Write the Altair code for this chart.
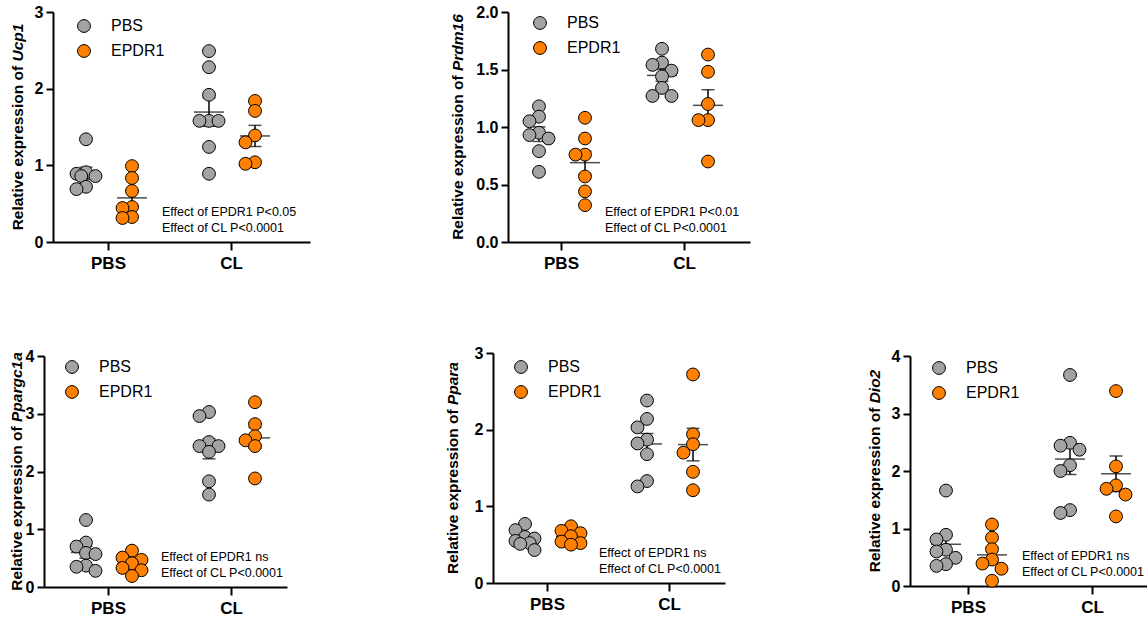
import altair as alt
import pandas as pd

FONT = "Liberation Sans"
GRAY = "#A3A3A6"
ORANGE = "#FF8000"

groups = ["PBS", "CL"]
treatments = ["PBS", "EPDR1"]
genes = ["Ucp1", "Prdm16", "Ppargc1a", "Ppara", "Dio2"]

# values: [gene][group][treatment]
ucp1_pbs_pbs = [1.34, 0.91, 0.89, 0.86, 0.86, 0.72, 0.69]
ucp1_pbs_epdr1 = [0.99, 0.835, 0.665, 0.456, 0.443, 0.326, 0.313]
ucp1_cl_pbs = [2.49, 2.28, 1.92, 1.58, 1.58, 1.58, 1.24, 0.89]
ucp1_cl_epdr1 = [1.84, 1.71, 1.39, 1.30, 1.04, 1.02]

prdm16_pbs_pbs = [1.18, 1.09, 1.05, 0.95, 0.93, 0.90, 0.79, 0.61]
prdm16_pbs_epdr1 = [1.08, 0.90, 0.76, 0.76, 0.57, 0.44, 0.32]
prdm16_cl_pbs = [1.68, 1.56, 1.54, 1.49, 1.44, 1.34, 1.27, 1.27]
prdm16_cl_epdr1 = [1.63, 1.48, 1.20, 1.06, 1.06, 0.70]

ppargc1a_pbs_pbs = [1.16, 0.77, 0.70, 0.59, 0.57, 0.37, 0.35, 0.28]
ppargc1a_pbs_epdr1 = [0.63, 0.51, 0.47, 0.41, 0.33, 0.29, 0.19]
ppargc1a_cl_pbs = [3.03, 2.96, 2.51, 2.44, 2.44, 2.34, 1.83, 1.60]
ppargc1a_cl_epdr1 = [3.20, 2.82, 2.61, 2.54, 2.44, 1.88]

ppara_pbs_pbs = [0.77, 0.69, 0.60, 0.58, 0.55, 0.52, 0.51, 0.43]
ppara_pbs_epdr1 = [0.74, 0.68, 0.65, 0.61, 0.54, 0.52, 0.50]
ppara_cl_pbs = [2.38, 2.14, 2.03, 1.87, 1.82, 1.68, 1.33, 1.26]
ppara_cl_epdr1 = [2.72, 1.94, 1.81, 1.70, 1.45, 1.21]

dio2_pbs_pbs = [1.66, 0.89, 0.81, 0.63, 0.60, 0.49, 0.38, 0.35]
dio2_pbs_epdr1 = [1.07, 0.84, 0.64, 0.46, 0.39, 0.30, 0.09]
dio2_cl_pbs = [3.67, 2.49, 2.44, 2.37, 2.10, 2.00, 1.32, 1.27]
dio2_cl_epdr1 = [3.39, 2.08, 1.75, 1.69, 1.59, 1.21]

gene_values = [
    [[ucp1_pbs_pbs, ucp1_pbs_epdr1], [ucp1_cl_pbs, ucp1_cl_epdr1]],
    [[prdm16_pbs_pbs, prdm16_pbs_epdr1], [prdm16_cl_pbs, prdm16_cl_epdr1]],
    [[ppargc1a_pbs_pbs, ppargc1a_pbs_epdr1], [ppargc1a_cl_pbs, ppargc1a_cl_epdr1]],
    [[ppara_pbs_pbs, ppara_pbs_epdr1], [ppara_cl_pbs, ppara_cl_epdr1]],
    [[dio2_pbs_pbs, dio2_pbs_epdr1], [dio2_cl_pbs, dio2_cl_epdr1]],
]

effect_epdr1 = ["Effect of EPDR1 P<0.05", "Effect of EPDR1 P<0.01",
                "Effect of EPDR1 ns", "Effect of EPDR1 ns", "Effect of EPDR1 ns"]
effect_cl = ["Effect of CL P<0.0001"] * 5
y_max = [3, 2, 4, 3, 4]
y_ticks = [[0, 1, 2, 3], [0, 0.5, 1.0, 1.5, 2.0], [0, 1, 2, 3, 4], [0, 1, 2, 3], [0, 1, 2, 3, 4]]
y_format = ["d", ".1f", "d", "d", "d"]

# ---- layout (pixels on the 1147x618 canvas) ----
layout = [
    dict(L=53, E=310, T=12, B=242, p=55, c=178, tx=18, lx=83, ly=26, ax=162, ay=212),
    dict(L=508, E=750, T=12, B=242, p=53, c=176, tx=458, lx=539, ly=23, ax=605, ay=212),
    dict(L=44, E=287, T=356, B=587, p=64, c=187, tx=17, lx=71, ly=367, ax=161, ay=557),
    dict(L=493, E=725, T=353, B=583, p=54, c=176, tx=453, lx=520, ly=367, ax=599, ay=553),
    dict(L=910, E=1147, T=356, B=586, p=58, c=182, tx=875, lx=938, ly=368, ax=1022, ay=556),
]
W, H = 1147, 618
SHIFT = {"PBS": -22, "EPDR1": 24}
PT_SIZE = 165
TITLE_FS = 15.5

BOLD_W = {' ': 278, 'R': 722, 'e': 556, 'l': 278, 'a': 556, 't': 333, 'i': 278, 'v': 556,
          'x': 556, 'p': 611, 'r': 389, 's': 556, 'o': 611, 'n': 611, 'f': 333, 'U': 722,
          'c': 556, '1': 556, 'P': 667, 'd': 611, 'm': 889, '6': 556, 'g': 611, 'D': 722, '2': 556}


def text_w(s, fs):
    return sum(BOLD_W.get(ch, 600) for ch in s) / 1000 * fs


def swarm(vals, px_per_unit, step=4.75, mind=9.4):
    """Simple beeswarm: spread points that would overlap, within +-2 steps."""
    order = sorted(range(len(vals)), key=lambda i: -vals[i])
    placed, offs = [], [0.0] * len(vals)
    for i in order:
        y = vals[i] * px_per_unit
        best, best_d = 0.0, -1.0
        for kk in [0, -2, 2, -1, 1]:
            x = kk * step
            d = min([((x - a) ** 2 + (y - b) ** 2) ** 0.5 for a, b in placed] or [99])
            if d >= mind:
                best = x
                break
            if d > best_d:
                best, best_d = x, d
        placed.append((best, y))
        offs[i] = best
    return offs


def axis_common():
    return dict(domainColor="black", domainWidth=2, tickColor="black", tickWidth=2,
                labelFont=FONT, labelFontWeight="bold", labelColor="black",
                grid=False, title=None, labelOverlap=False, labelFlush=False, labelBound=False)


def make_panel(idx):
    lay = layout[idx]
    k = lay["c"] - lay["p"]
    d0 = 1 - lay["p"] / k
    d1 = d0 + (lay["E"] - lay["L"]) / k
    ppu = (lay["B"] - lay["T"]) / y_max[idx]

    rows = []
    for gi, g in enumerate(groups):
        for ti, t in enumerate(treatments):
            vals = gene_values[idx][gi][ti]
            offs = swarm(vals, ppu)
            xc = gi + 1 + SHIFT[t] / k
            for v, o in zip(vals, offs):
                rows.append(dict(group=g, treatment=t, value=v, xc=xc, xj=xc + o / k))
    df = pd.DataFrame(rows)

    xs = alt.Scale(domain=[d0, d1], range=[lay["L"], lay["E"]], nice=False, zero=False)
    ys = alt.Scale(domain=[0, y_max[idx]], range=[lay["B"], lay["T"]], nice=False, zero=False)
    xaxis = alt.Axis(orient="bottom", offset=lay["B"] - H, values=[1, 2],
                     labelExpr="datum.value == 1 ? 'PBS' : 'CL'", tickSize=8,
                     labelFontSize=17, labelPadding=5, **axis_common())
    yaxis = alt.Axis(orient="left", offset=-lay["L"], values=y_ticks[idx], format=y_format[idx],
                     tickSize=7, labelFontSize=16, labelPadding=3, **axis_common())

    base = alt.Chart(df)
    stats = base.transform_aggregate(
        m="mean(value)", se="stderr(value)", groupby=["xc"]
    ).transform_calculate(lo="datum.m - datum.se", hi="datum.m + datum.se")

    xe = alt.X("xc:Q", scale=xs, axis=xaxis)
    sem_rule = stats.mark_rule(color="black", strokeWidth=1.5).encode(
        x=xe, y=alt.Y("lo:Q", scale=ys, axis=yaxis), y2="hi:Q")
    cap_lo = stats.mark_tick(orient="horizontal", size=13, thickness=1.5, color="black").encode(
        x=xe, y=alt.Y("lo:Q", scale=ys, axis=yaxis))
    cap_hi = stats.mark_tick(orient="horizontal", size=13, thickness=1.5, color="black").encode(
        x=xe, y=alt.Y("hi:Q", scale=ys, axis=yaxis))
    mean_t = stats.mark_tick(orient="horizontal", size=30, thickness=1.5, color="black").encode(
        x=xe, y=alt.Y("m:Q", scale=ys, axis=yaxis))

    pts = base.mark_circle(size=PT_SIZE, opacity=1, stroke="black", strokeWidth=1).encode(
        x=alt.X("xj:Q", scale=xs, axis=xaxis),
        y=alt.Y("value:Q", scale=ys, axis=yaxis),
        fill=alt.Fill("treatment:N",
                      scale=alt.Scale(domain=treatments, range=[GRAY, ORANGE]),
                      sort=treatments,
                      legend=alt.Legend(orient="none", legendX=lay["lx"] - 7, legendY=lay["ly"] - 8,
                                        title=None, symbolType="circle", symbolSize=PT_SIZE,
                                        symbolStrokeColor="black", symbolStrokeWidth=1,
                                        symbolOpacity=1, labelFont=FONT, labelFontSize=16,
                                        labelColor="black", labelOffset=19, rowPadding=7,
                                        padding=0)),
    )

    one = pd.DataFrame({"k": [0]})
    normal = "Relative expression of "
    ital = genes[idx]
    wn = text_w(normal, TITLE_FS)
    wt = wn + text_w(ital, TITLE_FS)
    y0 = (lay["T"] + lay["B"]) / 2 + wt / 2
    t1 = alt.Chart(one).mark_text(angle=270, align="left", baseline="middle", font=FONT,
                                  fontWeight="bold", fontSize=TITLE_FS, color="black").encode(
        x=alt.value(lay["tx"]), y=alt.value(y0), text=alt.value(normal))
    t2 = alt.Chart(one).mark_text(angle=270, align="left", baseline="middle", font=FONT,
                                  fontWeight="bold", fontStyle="italic", fontSize=TITLE_FS,
                                  color="black").encode(
        x=alt.value(lay["tx"]), y=alt.value(y0 - wn), text=alt.value(ital))
    a1 = alt.Chart(one).mark_text(align="left", baseline="middle", font=FONT, fontSize=12.5,
                                  color="black").encode(
        x=alt.value(lay["ax"]), y=alt.value(lay["ay"]), text=alt.value(effect_epdr1[idx]))
    a2 = alt.Chart(one).mark_text(align="left", baseline="middle", font=FONT, fontSize=12.5,
                                  color="black").encode(
        x=alt.value(lay["ax"]), y=alt.value(lay["ay"] + 16), text=alt.value(effect_cl[idx]))

    return alt.layer(sem_rule, cap_lo, cap_hi, mean_t, pts, t1, t2, a1, a2)


panels = [make_panel(i) for i in range(5)]

chart = alt.layer(*panels).resolve_scale(
    x="independent", y="independent", fill="independent"
).resolve_axis(
    x="independent", y="independent"
).resolve_legend(
    fill="independent"
).properties(
    width=W, height=H, autosize="none", padding=0, background="white"
).configure_view(stroke=None)

chart.save("out.html", embed_options={"renderer": "svg", "actions": False})
